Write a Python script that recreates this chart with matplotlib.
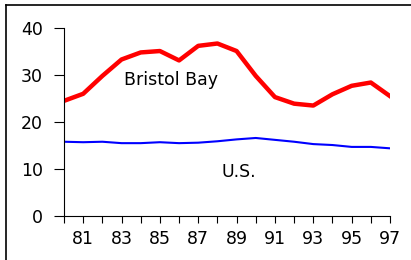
import matplotlib
matplotlib.use("Agg")
import matplotlib.pyplot as plt
from matplotlib.lines import Line2D

years = list(range(80, 98))
bristol_bay = [24.5, 26.0, 29.8, 33.3, 34.8, 35.1, 33.1, 36.2, 36.7, 35.1,
               29.8, 25.3, 23.9, 23.5, 25.9, 27.7, 28.4, 25.5]
us = [15.8, 15.7, 15.8, 15.5, 15.5, 15.7, 15.5, 15.6, 15.9, 16.3,
      16.6, 16.2, 15.8, 15.3, 15.1, 14.7, 14.7, 14.4]
yticks = [0, 10, 20, 30, 40]
xlabels = [str(y) for y in range(81, 98, 2)]

# wide sans to mimic the horizontally stretched original lettering
plt.rcParams["font.family"] = ["DejaVu Sans"]
fs = 12.5

fig = plt.figure(figsize=(4.11, 2.60), dpi=100)
ax = fig.add_axes([64 / 411, 1 - 216 / 260, 326 / 411, 188 / 260])

ax.plot(years, bristol_bay, color="#ff0000", lw=3.2, solid_joinstyle="round")
ax.plot(years, us, color="#0000ff", lw=1.5)

ax.text(85.6, 28.9, "Bristol Bay", fontsize=fs, ha="center", va="center")
ax.text(89.1, 9.4, "U.S.", fontsize=fs, ha="center", va="center")

ax.set_xlim(80, 97)
ax.set_ylim(0, 40)
ax.set_yticks(yticks)
ax.set_xticks([int(s) for s in xlabels])
ax.set_xticks(years, minor=True)
ax.set_xticklabels(xlabels)
ax.tick_params(axis="y", direction="out", length=7, width=0.8, pad=8,
               labelsize=fs)
ax.tick_params(axis="x", which="both", direction="out", length=5, width=0.8,
               pad=5, labelsize=fs)
for s in ("top", "right"):
    ax.spines[s].set_visible(False)
for s in ("left", "bottom"):
    ax.spines[s].set_linewidth(0.8)

# outer frame (only left and top edges visible in the crop)
fig.add_artist(Line2D([6 / 411, 6 / 411], [0, 1 - 5 / 260],
                      color="black", lw=1.2))
fig.add_artist(Line2D([6 / 411, 1], [1 - 5 / 260, 1 - 5 / 260],
                      color="black", lw=1.2))

fig.savefig("out.png", dpi=100)
